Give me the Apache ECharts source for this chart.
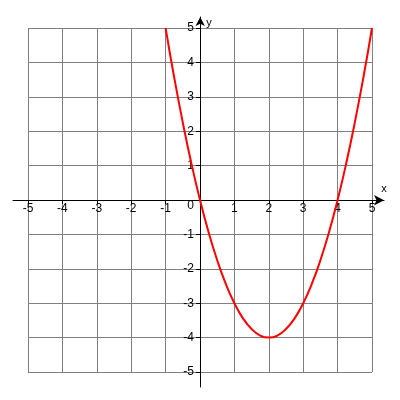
<!DOCTYPE html>
<html><head><meta charset="utf-8">
<script src="https://cdn.jsdelivr.net/npm/echarts@6/dist/echarts.min.js"></script>
<style>html,body{margin:0;padding:0;background:#fff}#c{width:400px;height:400px}</style>
</head><body><div id="c"></div>
<script>
const xValues = [-1, -0.75, -0.5, -0.25, 0, 0.25, 0.5, 0.75, 1, 1.25, 1.5, 1.75, 2, 2.25, 2.5, 2.75, 3, 3.25, 3.5, 3.75, 4, 4.25, 4.5, 4.75, 5];
const yValues = [5, 3.56, 2.25, 1.06, 0, -0.94, -1.75, -2.44, -3, -3.44, -3.75, -3.94, -4, -3.94, -3.75, -3.44, -3, -2.44, -1.75, -0.94, 0, 1.06, 2.25, 3.56, 5];
const axisMin = -5, axisMax = 5, axisStep = 1;

const fam = 'Liberation Sans, Arial, sans-serif';
const chart = echarts.init(document.getElementById('c'), null, {renderer: 'canvas'});
chart.setOption({
  backgroundColor: '#fff',
  animation: false,
  grid: [
    {left: 28, right: 28, top: 28, bottom: 28, containLabel: false, outerBoundsMode: 'none'},
    {left: 13, right: 16, top: 17, bottom: 13, containLabel: false, outerBoundsMode: 'none'}
  ],
  xAxis: [
    {type: 'value', gridIndex: 0, min: axisMin, max: axisMax, interval: axisStep,
     position: 'bottom', offset: -172,
     axisLine: {show: false, onZero: false},
     axisTick: {show: true, length: 4, lineStyle: {color: '#000'}},
     axisLabel: {show: true, margin: 3, fontFamily: fam, fontSize: 12, color: '#000',
       formatter: v => v === 0 ? '' : String(v)},
     splitLine: {show: true, lineStyle: {color: '#808080', width: 1}}},
    {type: 'value', gridIndex: 1, min: -5.44, max: 5.34,
     axisLine: {show: true, onZero: true, symbol: ['none', 'arrow'], symbolSize: [8, 10], lineStyle: {color: '#000', width: 1}},
     axisTick: {show: false}, axisLabel: {show: false}, splitLine: {show: false},
     name: 'x', nameLocation: 'end', nameGap: 0,
     nameTextStyle: {fontFamily: fam, fontSize: 11, color: '#000', align: 'center', verticalAlign: 'bottom', padding: [0, 0, 6, 0]}}
  ],
  yAxis: [
    {type: 'value', gridIndex: 0, min: axisMin, max: axisMax, interval: axisStep,
     position: 'left', offset: -172,
     axisLine: {show: false, onZero: false},
     axisTick: {show: true, length: 4, lineStyle: {color: '#000'}},
     axisLabel: {show: true, margin: 6, fontFamily: fam, fontSize: 12, color: '#000',
       formatter: v => v === 0 ? '{z|0}' : String(v),
       rich: {z: {fontFamily: fam, fontSize: 12, color: '#000', padding: [12, 0, 0, 0]}}},
     splitLine: {show: true, lineStyle: {color: '#808080', width: 1}}},
    {type: 'value', gridIndex: 1, min: -5.43, max: 5.33,
     axisLine: {show: true, onZero: true, symbol: ['none', 'arrow'], symbolSize: [7, 9], lineStyle: {color: '#000', width: 1}},
     axisTick: {show: false}, axisLabel: {show: false}, splitLine: {show: false},
     name: 'y', nameLocation: 'end', nameGap: 0,
     nameTextStyle: {fontFamily: fam, fontSize: 11, color: '#000', align: 'left', verticalAlign: 'top', padding: [0, 0, 0, 6]}}
  ],
  series: [{
    type: 'line', xAxisIndex: 0, yAxisIndex: 0,
    data: xValues.map((x, i) => [x, yValues[i]]),
    smooth: true, showSymbol: false, silent: true,
    lineStyle: {color: '#ff0000', width: 2}
  }]
});
</script></body></html>
